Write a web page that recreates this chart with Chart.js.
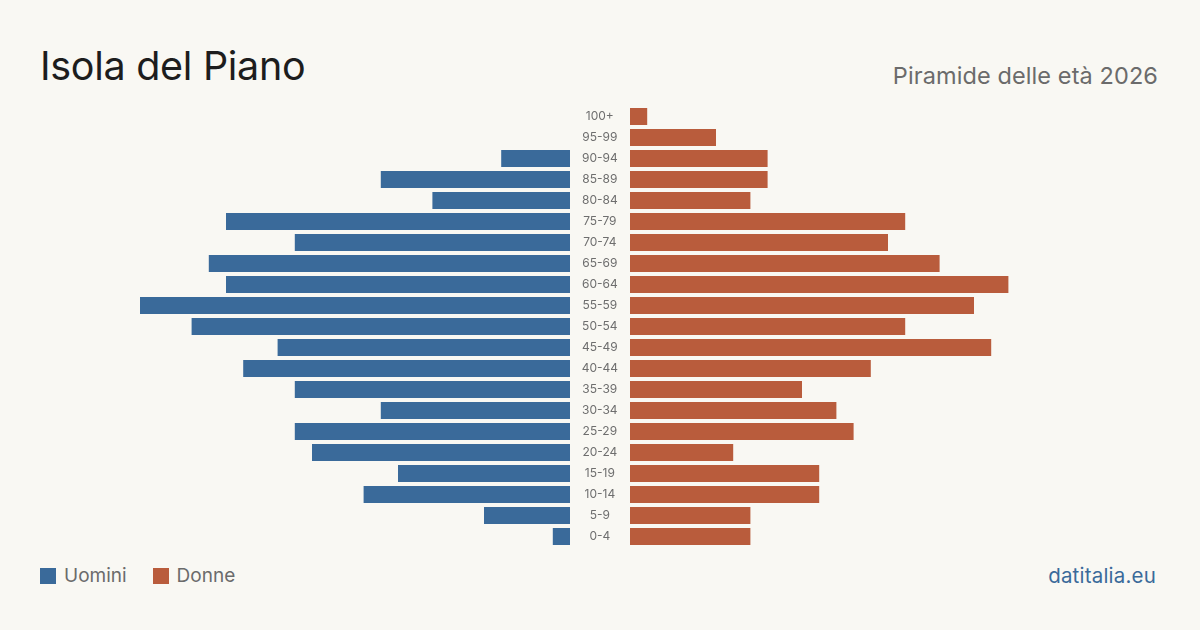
<!DOCTYPE html>
<html>
<head>
<meta charset="utf-8">
<script src="https://cdn.jsdelivr.net/npm/chart.js@4"></script>
<style>
  html, body { margin: 0; padding: 0; }
  body { width: 1200px; height: 630px; background: #f9f8f3; position: relative; overflow: hidden; font-family: Inter, "Noto Sans", sans-serif; }
  .title { position: absolute; left: 40px; top: 42px; font-size: 39.5px; color: #1d1d1d; line-height: 48px; letter-spacing: -0.3px; }
  .subtitle { position: absolute; right: 42px; top: 61px; font-size: 23.5px; color: #6b6b6b; line-height: 30px; letter-spacing: 0.1px; }
  .legend { position: absolute; left: 40px; top: 564px; font-size: 19px; color: #6b6b6b; line-height: 24px; }
  .legend span.sw { display: inline-block; width: 16px; height: 16px; vertical-align: -2px; margin-right: 8px; }
  .legend span.item { margin-right: 26px; }
  .source { position: absolute; right: 44px; top: 563px; font-size: 20.5px; color: #3a6a9a; line-height: 26px; letter-spacing: 0.2px; }
  #wrapLeft { position: absolute; left: 140px; top: 106px; width: 430px; height: 441px; }
  #wrapRight { position: absolute; left: 570px; top: 106px; width: 490px; height: 441px; }
</style>
</head>
<body>
<div class="title">Isola del Piano</div>
<div class="subtitle">Piramide delle età 2026</div>
<div class="legend"><span class="item"><span class="sw" style="background:#3a6a9a"></span>Uomini</span><span class="item"><span class="sw" style="background:#b95c3c"></span>Donne</span></div>
<div class="source">datitalia.eu</div>
<div id="wrapLeft"><canvas id="left"></canvas></div>
<div id="wrapRight"><canvas id="right"></canvas></div>
<script>
// age classes, top to bottom as drawn
var ageGroups = ['100+', '95-99', '90-94', '85-89', '80-84', '75-79', '70-74', '65-69', '60-64', '55-59', '50-54',
                 '45-49', '40-44', '35-39', '30-34', '25-29', '20-24', '15-19', '10-14', '5-9', '0-4'];
var uomini = [0, 0, 4, 11, 8, 20, 16, 21, 20, 25, 22, 17, 19, 16, 11, 16, 15, 10, 12, 5, 1];
var donne  = [1, 5, 8, 8, 7, 16, 15, 18, 22, 20, 16, 21, 14, 10, 12, 13, 6, 11, 11, 7, 7];
var maxValue = 25;

var blue = '#3a6a9a';
var orange = '#b95c3c';

Chart.defaults.font.family = "Inter, 'Noto Sans', sans-serif";
Chart.defaults.animation = false;

function baseOptions() {
    return {
        indexAxis: 'y',
        responsive: true,
        maintainAspectRatio: false,
        layout: { padding: 0 },
        plugins: { legend: { display: false }, tooltip: { enabled: false }, title: { display: false } },
        scales: {}
    };
}

// men, growing to the left
var leftOpts = baseOptions();
leftOpts.scales = {
    x: { display: false, min: 0, max: maxValue, reverse: true },
    y: { display: false }
};
var leftChart = new Chart(document.getElementById('left').getContext('2d'), {
    type: 'bar',
    data: {
        labels: ageGroups,
        datasets: [{
            label: 'Uomini',
            data: uomini,
            backgroundColor: blue,
            categoryPercentage: 1,
            barPercentage: 0.81
        }]
    },
    options: leftOpts
});

// women, with the age labels in the middle column
var rightOpts = baseOptions();
rightOpts.scales = {
    x: { display: false, min: 0, max: maxValue },
    y: {
        display: true,
        grid: { display: false },
        border: { display: false },
        ticks: {
            color: '#6e6e6e',
            font: { size: 12 },
            crossAlign: 'center',
            padding: 4
        },
        afterFit: function (scale) {
            scale.width = 60;
            // keep rows aligned with the left chart
            scale.paddingTop = 0;
            scale.paddingBottom = 0;
        }
    }
};
var rightChart = new Chart(document.getElementById('right').getContext('2d'), {
    type: 'bar',
    data: {
        labels: ageGroups,
        datasets: [{
            label: 'Donne',
            data: donne,
            backgroundColor: orange,
            categoryPercentage: 1,
            barPercentage: 0.81
        }]
    },
    options: rightOpts
});
</script>
</body>
</html>
